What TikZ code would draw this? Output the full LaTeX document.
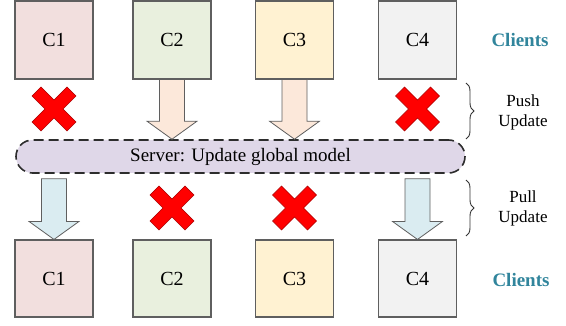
\documentclass[tikz,border=0pt]{standalone}
\usepackage{fontspec}
\setmainfont{Liberation Serif}
\usetikzlibrary{calc,decorations.pathreplacing}

\definecolor{boxline}{RGB}{95,95,95}
\definecolor{cone}{RGB}{242,223,222}
\definecolor{ctwo}{RGB}{233,240,222}
\definecolor{cthree}{RGB}{255,242,210}
\definecolor{cfour}{RGB}{242,242,242}
\definecolor{srvfill}{RGB}{223,215,232}
\definecolor{srvline}{RGB}{45,45,45}
\definecolor{pushfill}{RGB}{252,232,218}
\definecolor{pullfill}{RGB}{218,236,241}
\definecolor{clientcol}{RGB}{49,133,156}
\definecolor{crossedge}{RGB}{170,0,0}

\tikzset{
  client/.style={draw=boxline, line width=1.1pt, minimum width=78pt,
    minimum height=78pt, inner sep=0pt, font=\fontsize{20}{24}\selectfont},
  server/.style={draw=srvline, fill=srvfill, line width=1.6pt,
    dash pattern=on 10pt off 5pt, rounded corners=16.5pt,
    minimum width=449pt, minimum height=33pt, inner sep=0pt,
    font=\fontsize{19}{23}\selectfont},
  blockarrow/.style={draw=boxline, line width=0.8pt, line join=miter},
  clientlabel/.style={text=clientcol, font=\fontsize{19}{23}\selectfont\bfseries},
  bracelabel/.style={align=center, font=\fontsize{17}{20}\selectfont},
  bracestyle/.style={draw=black!80, line width=0.9pt,
    decorate, decoration={brace, amplitude=8pt, aspect=0.5}},
  pics/nocross/.style={code={
    \filldraw[fill=red, draw=crossedge, line width=0.5pt, line join=miter]
      (0,9) -- (13,22) -- (22,13) -- (9,0) -- (22,-13) -- (13,-22)
      -- (0,-9) -- (-13,-22) -- (-22,-13) -- (-9,0) -- (-22,13)
      -- (-13,22) -- cycle;}}
}

% Wide block arrow from a start point down to a tip point
\newcommand\updatearrow[3]{%
  \path[blockarrow, fill=#3] let \p1=(#1), \p2=(#2) in
    (\x1-12.5pt,\y1) -- (\x1+12.5pt,\y1) -- (\x1+12.5pt,\y2+18pt)
    -- (\x1+25pt,\y2+18pt) -- (\x2,\y2) -- (\x1-25pt,\y2+18pt)
    -- (\x1-12.5pt,\y2+18pt) -- cycle;}

\begin{document}
\begin{tikzpicture}[x=1pt, y=-1pt]
  \useasboundingbox (0,0) rectangle (566,326);

  % upper row of clients
  \node[client, fill=cone]   (t1) at (54,40)    {C1};
  \node[client, fill=ctwo]   (t2) at (172,40)   {C2};
  \node[client, fill=cthree] (t3) at (294.5,40) {C3};
  \node[client, fill=cfour]  (t4) at (417.5,40) {C4};
  \node[clientlabel] (lt) at (520,40) {Clients};

  % server
  \node[server] (srv) at (240.5,156.5) {Server: Update global model};

  % lower row of clients
  \node[client, fill=cone,   minimum height=77pt] (b1) at (54,278.5)    {C1};
  \node[client, fill=ctwo,   minimum height=77pt] (b2) at (172,278.5)   {C2};
  \node[client, fill=cthree, minimum height=77pt] (b3) at (294.5,278.5) {C3};
  \node[client, fill=cfour,  minimum height=77pt] (b4) at (417.5,278.5) {C4};
  \node[clientlabel] (lb) at (521,280) {Clients};

  % push phase
  \updatearrow{t2.south}{t2.south |- srv.north}{pushfill}
  \updatearrow{t3.south}{t3.south |- srv.north}{pushfill}
  \pic at (54,109) {nocross};
  \pic at (417.5,109) {nocross};

  % pull phase
  \coordinate (p1) at ($(b1.north |- srv.south)+(0,5)$);
  \coordinate (p4) at ($(b4.north |- srv.south)+(0,5)$);
  \updatearrow{p1}{b1.north}{pullfill}
  \updatearrow{p4}{b4.north}{pullfill}
  \pic at (172,208) {nocross};
  \pic at (294.5,208) {nocross};

  % braces
  \coordinate (pushA) at (466,83);
  \coordinate (pushB) at (466,139);
  \coordinate (pullA) at (466,180);
  \coordinate (pullB) at (466,236);
  \draw[bracestyle] (pushA) -- (pushB);
  \draw[bracestyle] (pullA) -- (pullB);
  \node[bracelabel] (pushlab) at (523,112) {Push\\Update};
  \node[bracelabel] (pulllab) at (523,208) {Pull\\Update};
\end{tikzpicture}
\end{document}
